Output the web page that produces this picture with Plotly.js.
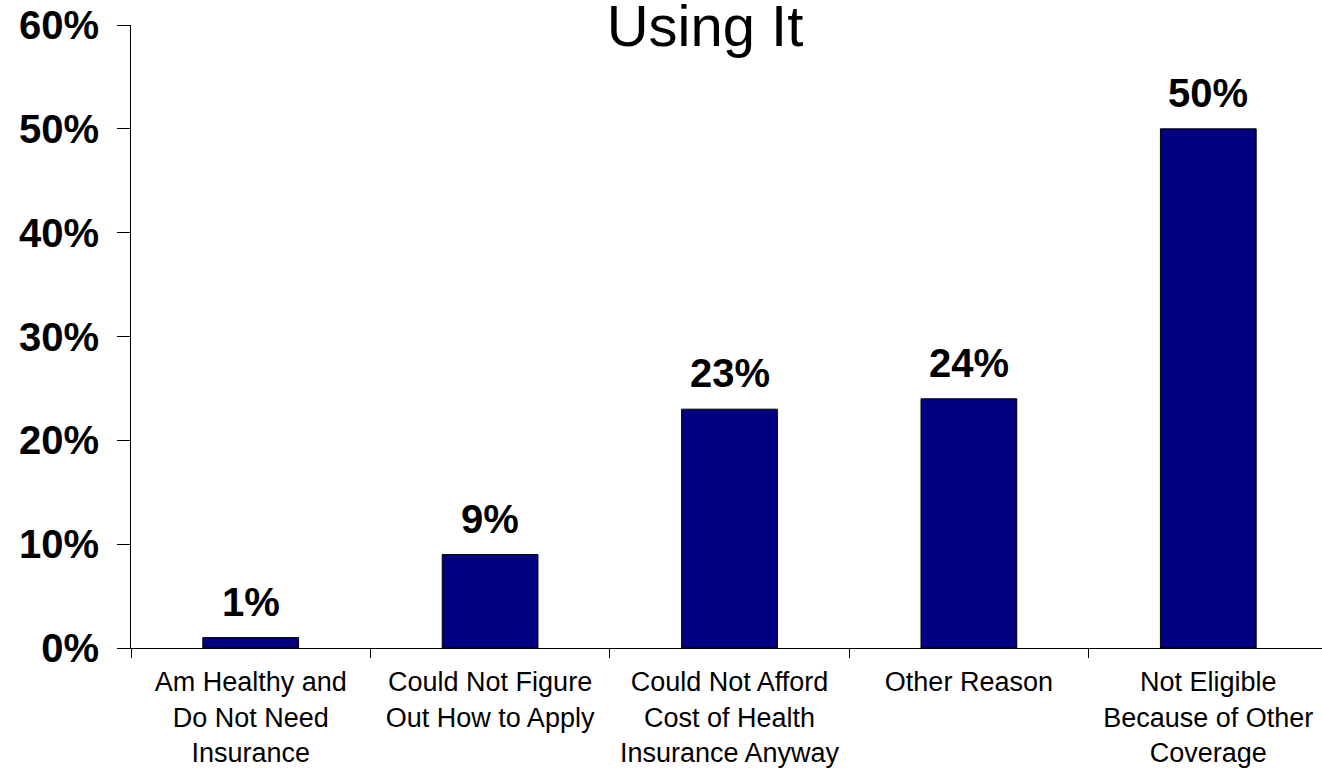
<!DOCTYPE html>
<html>
<head>
<meta charset="utf-8">
<script src="https://cdn.plot.ly/plotly-3.0.1.min.js"></script>
<style>
  html, body { margin: 0; padding: 0; overflow: hidden; background: #fff; }
  #chart { width: 1328px; height: 770px; }
</style>
</head>
<body>
<div id="chart"></div>
<script>
// Reasons given, with the share of respondents for each
const categories = [
  "Am Healthy and<br>Do Not Need<br>Insurance",
  "Could Not Figure<br>Out How to Apply",
  "Could Not Afford<br>Cost of Health<br>Insurance Anyway",
  "Other Reason",
  "Not Eligible<br>Because of Other<br>Coverage"
];
const shares = [1, 9, 23, 24, 50];
const shareLabels = ["1%", "9%", "23%", "24%", "50%"];
const yTicks = [0, 10, 20, 30, 40, 50, 60];

const FONT = "Liberation Sans, Arial, sans-serif";

const trace = {
  type: "bar",
  x: categories,
  y: shares,
  width: 0.4,
  marker: { color: "#000080", line: { color: "#000000", width: 1 } },
  hoverinfo: "skip"
};

// Value labels above each bar
const valueNotes = categories.map((c, i) => ({
  x: c,
  y: shares[i],
  xref: "x",
  yref: "y",
  text: "<b>" + shareLabels[i] + "</b>",
  showarrow: false,
  yanchor: "bottom",
  yshift: 12,
  font: { family: FONT, size: 40, color: "#000" }
}));

const layout = {
  width: 1328,
  height: 770,
  margin: { l: 131, r: 0, t: 25, b: 122 },
  paper_bgcolor: "#fff",
  plot_bgcolor: "#fff",
  showlegend: false,
  font: { family: FONT, color: "#000" },
  title: {
    text: "Using It",
    font: { family: FONT, size: 58, color: "#000" },
    x: 705 / 1328,
    xanchor: "center",
    xref: "container",
    y: 1 - 5 / 770,
    yanchor: "top",
    yref: "container",
    pad: { t: 0 }
  },
  xaxis: {
    type: "category",
    showline: true,
    linecolor: "#000",
    linewidth: 1,
    ticks: "outside",
    tickson: "boundaries",
    ticklen: 9,
    tickcolor: "#000",
    showgrid: false,
    zeroline: false,
    tickfont: { family: FONT, size: 27, color: "#000" },
    ticklabelstandoff: 10
  },
  yaxis: {
    range: [0, 60],
    tickvals: yTicks,
    ticktext: yTicks.map(v => "<b>" + v + "%</b>"),
    showline: true,
    linecolor: "#000",
    linewidth: 1,
    ticks: "outside",
    ticklen: 13,
    tickcolor: "#000",
    showgrid: false,
    zeroline: false,
    tickfont: { family: FONT, size: 40, color: "#000" },
    ticklabelstandoff: 10
  },
  annotations: valueNotes
};

Plotly.newPlot("chart", [trace], layout, { displayModeBar: false, staticPlot: true });
</script>
</body>
</html>
